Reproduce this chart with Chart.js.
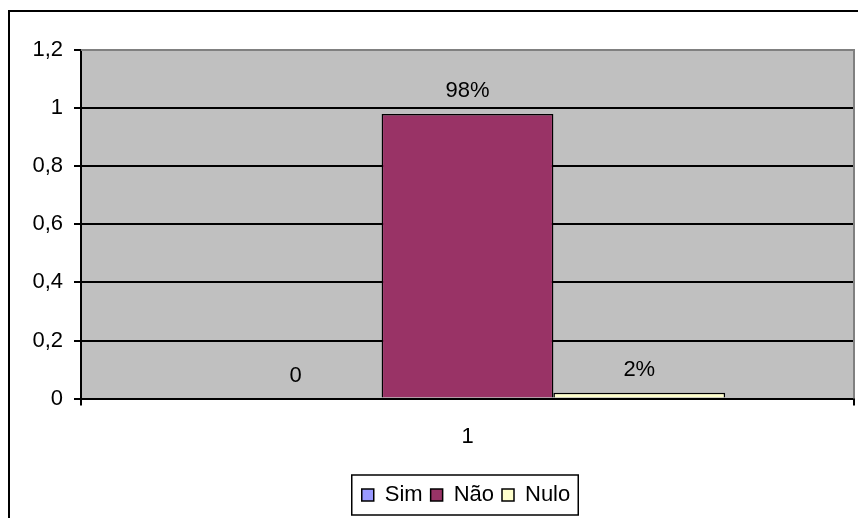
<!DOCTYPE html>
<html>
<head>
<meta charset="utf-8">
<script src="https://cdn.jsdelivr.net/npm/chart.js@4.4.0/dist/chart.umd.min.js"></script>
<style>
html,body{margin:0;padding:0;background:#fff;}
#wrap{width:858px;height:518px;position:relative;}
</style>
</head>
<body>
<div id="wrap"><canvas id="c" width="858" height="518"></canvas></div>
<script>
const categories = ["1"];
const seriesNames = ["Sim", "Não", "Nulo"];
const seriesValues = [[0], [0.98], [0.02]];
const seriesLabels = [["0"], ["98%"], ["2%"]];
const seriesColors = ["#9999FF", "#993366", "#FFFFCC"];
const yTicks = [0, 0.2, 0.4, 0.6, 0.8, 1, 1.2];

const FONT = "'Liberation Sans', Arial, sans-serif";
const FS = 22;

const framePlugin = {
  id: 'frame',
  afterLayout(chart) {
    const lg = chart.legend;
    if (lg) {
      const dx = 39, dy = 8;
      lg.left += dx; lg.right += dx;
      lg.top += dy; lg.bottom += dy;
    }
  },
  beforeDraw(chart) {
    const ctx = chart.ctx, a = chart.chartArea;
    ctx.save();
    ctx.fillStyle = '#fff';
    ctx.fillRect(0, 0, chart.width, chart.height);
    ctx.strokeStyle = '#000';
    ctx.lineWidth = 2;
    ctx.strokeRect(9, 11, chart.width + 50, chart.height + 50);
    ctx.fillStyle = '#C0C0C0';
    ctx.fillRect(a.left, a.top, a.right - a.left, a.bottom - a.top);
    ctx.restore();
  },
  afterDraw(chart) {
    const ctx = chart.ctx, a = chart.chartArea;
    ctx.save();
    ctx.strokeStyle = '#808080';
    ctx.lineWidth = 2;
    ctx.beginPath();
    ctx.moveTo(a.left, a.top);
    ctx.lineTo(a.right, a.top);
    ctx.lineTo(a.right, a.bottom);
    ctx.stroke();
    const lg = chart.legend;
    if (lg && lg.legendHitBoxes && lg.legendHitBoxes.length) {
      const hb = lg.legendHitBoxes;
      let l = Infinity, r = -Infinity, t = Infinity, b = -Infinity;
      hb.forEach(h => { l = Math.min(l, h.left); r = Math.max(r, h.left + h.width); t = Math.min(t, h.top); b = Math.max(b, h.top + h.height); });
      ctx.strokeStyle = '#000';
      ctx.lineWidth = 1.5;
      ctx.strokeRect(l - 10, t - 9, (r - l) + 18, (b - t) + 18);
    }
    ctx.fillStyle = '#000';
    ctx.font = FS + "px " + FONT;
    ctx.textAlign = 'center';
    ctx.textBaseline = 'middle';
    chart.data.datasets.forEach((ds, i) => {
      const meta = chart.getDatasetMeta(i);
      meta.data.forEach((bar, j) => {
        ctx.fillText(seriesLabels[i][j], bar.x, bar.y - 23);
      });
    });
    ctx.restore();
  }
};

new Chart(document.getElementById('c'), {
  type: 'bar',
  data: {
    labels: categories,
    datasets: seriesNames.map((n, i) => ({
      label: n,
      data: seriesValues[i],
      backgroundColor: seriesColors[i],
      borderColor: '#000',
      borderWidth: 1.5,
      categoryPercentage: 0.6667,
      barPercentage: 1
    }))
  },
  options: {
    responsive: false,
    animation: false,
    devicePixelRatio: 1,
    layout: { padding: { left: 0, right: 4, top: 50, bottom: 10 } },
    plugins: {
      tooltip: { enabled: false },
      legend: {
        position: 'bottom',
        labels: {
          font: { size: FS, family: FONT },
          color: '#000',
          boxWidth: 12,
          boxHeight: 12,
          padding: 8,
          generateLabels(chart) {
            return chart.data.datasets.map((ds, i) => ({
              text: ds.label,
              fillStyle: ds.backgroundColor,
              strokeStyle: '#000',
              lineWidth: 1.5,
              datasetIndex: i,
              hidden: false
            }));
          }
        }
      }
    },
    scales: {
      x: {
        grid: { offset: true, drawOnChartArea: false, color: '#000', lineWidth: 2, tickLength: 7 },
        border: { color: '#000', width: 2 },
        ticks: { font: { size: FS, family: FONT }, color: '#000', padding: 18 }
      },
      y: {
        min: 0, max: 1.2,
        afterFit(scale) { scale.width = 81; },
        afterBuildTicks(scale) { scale.ticks = yTicks.map(v => ({ value: v })); },
        grid: {
          color: ctx => (ctx.tick && ctx.tick.value === 1.2) ? '#808080' : '#000',
          tickColor: '#000',
          lineWidth: 2,
          tickLength: 7
        },
        border: { color: '#000', width: 2 },
        ticks: {
          font: { size: FS, family: FONT }, color: '#000', padding: 11,
          callback: v => String(Math.round(v * 10) / 10).replace('.', ',')
        }
      }
    }
  },
  plugins: [framePlugin]
});
</script>
</body>
</html>
